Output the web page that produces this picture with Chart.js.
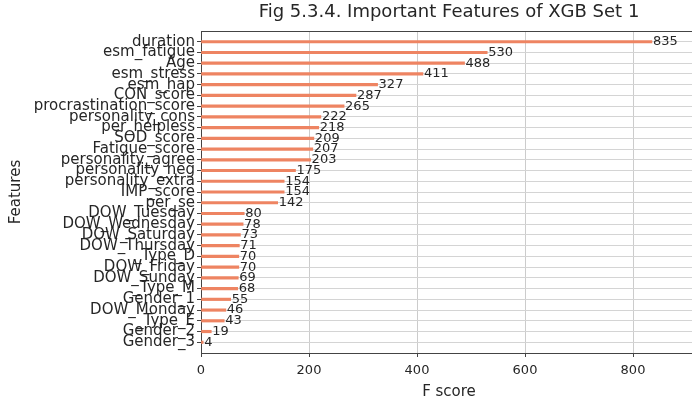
<!DOCTYPE html>
<html>
<head>
<meta charset="utf-8">
<script src="https://cdn.jsdelivr.net/npm/chart.js@4"></script>
<style>
  html, body { margin: 0; padding: 0; background: #fff; overflow: hidden; }
  #wrap { width: 700px; height: 405px; }
</style>
</head>
<body>
<div id="wrap"><canvas id="importanceChart" width="700" height="405"></canvas></div>
<script>
// feature importance (F score), top to bottom
const features = [
    'duration', 'esm_fatigue', 'Age', 'esm_stress', 'esm_hap', 'CON_score',
    'procrastination_score', 'personality_cons', 'per_helpless', 'SOD_score',
    'Fatigue_score', 'personality_agree', 'personality_neg', 'personality_extra',
    'IMP_score', 'per_se', 'DOW_Tuesday', 'DOW_Wednesday', 'DOW_Saturday',
    'DOW_Thursday', '_Type_D', 'DOW_Friday', 'DOW_Sunday', '_Type_M',
    'Gender_1', 'DOW_Monday', '_Type_E', 'Gender_2', 'Gender_3'
];
const fScores = [
    835, 530, 488, 411, 327, 287, 265, 222, 218, 209, 207, 203, 175, 154,
    154, 142, 80, 78, 73, 71, 70, 70, 69, 68, 55, 46, 43, 19, 4
];
const xTicks = [0, 200, 400, 600, 800];
const chartTitle = 'Fig 5.3.4. Important Features of XGB Set 1';

const FONT = 'DejaVu Sans';
const TEXT = '#262626';

// one empty row above and below, like matplotlib's margins
const rowLabels = [''].concat(features, ['']);
const rowValues = [null].concat(fScores, [null]);

const extras = {
    id: 'extras',
    afterDatasetsDraw(chart) {
        const ctx = chart.ctx;
        const area = chart.chartArea;
        const meta = chart.getDatasetMeta(0);
        ctx.save();
        ctx.font = '13px "' + FONT + '"';
        ctx.fillStyle = TEXT;
        ctx.textAlign = 'left';
        ctx.textBaseline = 'middle';
        meta.data.forEach((bar, i) => {
            const v = rowValues[i];
            if (v === null) return;
            ctx.fillText(String(v), bar.x + 1, bar.y);
        });
        // top spine
        ctx.strokeStyle = '#444';
        ctx.lineWidth = 1;
        ctx.beginPath();
        ctx.moveTo(area.left, area.top + 0.5);
        ctx.lineTo(area.right, area.top + 0.5);
        ctx.stroke();
        // title centred on the axes
        ctx.font = '18px "' + FONT + '"';
        ctx.textAlign = 'center';
        ctx.textBaseline = 'middle';
        ctx.fillText(chartTitle, (area.left + area.right) / 2, 12);
        ctx.restore();
    }
};

const isPad = (c) => c.tick && c.tick.label === '';

new Chart(document.getElementById('importanceChart'), {
    type: 'bar',
    data: {
        labels: rowLabels,
        datasets: [{
            data: rowValues,
            backgroundColor: '#ee8462',
            borderWidth: 0,
            barThickness: 2.5
        }]
    },
    options: {
        indexAxis: 'y',
        responsive: false,
        animation: false,
        layout: { padding: { top: 31, right: 3, left: 0, bottom: 0 } },
        plugins: {
            legend: { display: false },
            tooltip: { enabled: false }
        },
        scales: {
            x: {
                min: 0,
                max: 918.5,
                afterFit: (s) => { s.height = 52; },
                afterBuildTicks: (s) => { s.ticks = xTicks.map(v => ({ value: v })); },
                ticks: {
                    includeBounds: false,
                    font: { family: FONT, size: 13 },
                    color: TEXT,
                    padding: 6
                },
                grid: {
                    color: '#cccccc',
                    tickColor: '#444',
                    tickLength: 4
                },
                border: { color: '#444', width: 1 },
                title: {
                    display: true,
                    text: 'F score',
                    font: { family: FONT, size: 15 },
                    color: TEXT,
                    padding: { top: 0, bottom: 4 }
                }
            },
            y: {
                offset: false,
                afterFit: (s) => { s.width = 201; },
                ticks: {
                    autoSkip: false,
                    font: { family: FONT, size: 15 },
                    color: TEXT,
                    padding: 2
                },
                grid: {
                    offset: false,
                    color: (c) => isPad(c) ? 'rgba(0,0,0,0)' : '#d4d4d4',
                    tickColor: (c) => isPad(c) ? 'rgba(0,0,0,0)' : '#444',
                    tickLength: 4
                },
                border: { color: '#444', width: 1 },
                title: {
                    display: true,
                    text: 'Features',
                    font: { family: FONT, size: 15 },
                    color: TEXT,
                    padding: { top: 7, bottom: 0 }
                }
            }
        }
    },
    plugins: [extras]
});
</script>
</body>
</html>
